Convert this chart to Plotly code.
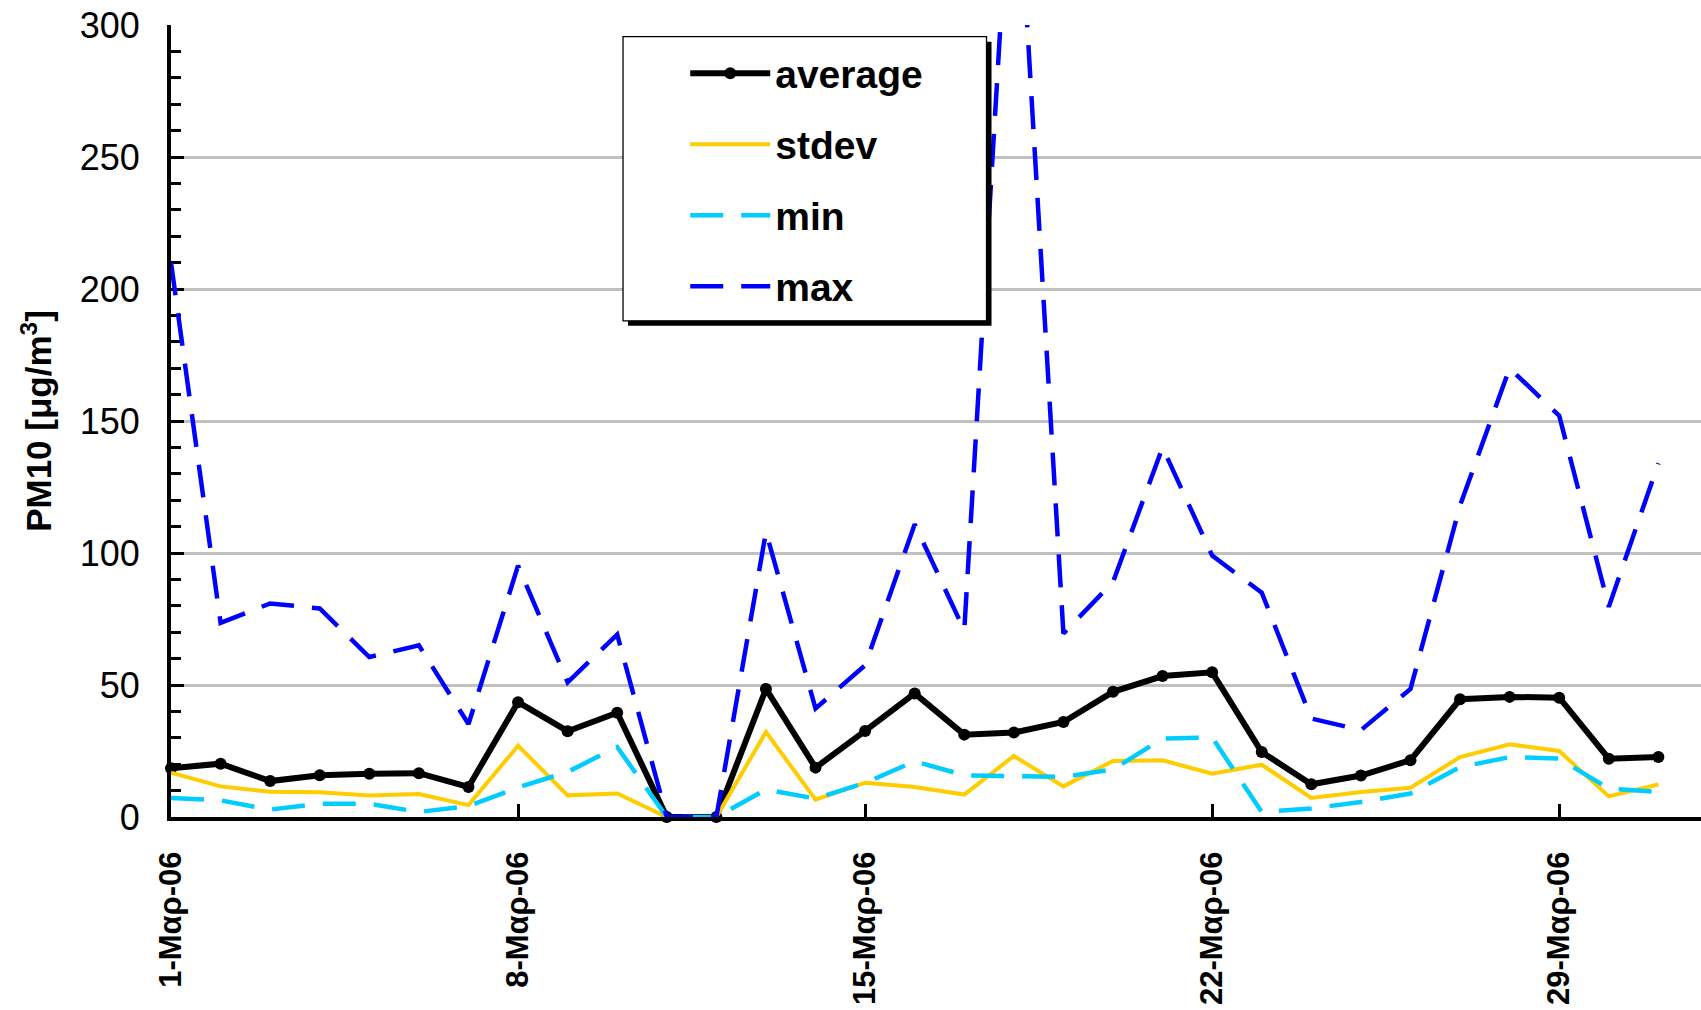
import plotly.graph_objects as go

dates = ["2006-03-01", "2006-03-02", "2006-03-03", "2006-03-04", "2006-03-05",
         "2006-03-06", "2006-03-07", "2006-03-08", "2006-03-09", "2006-03-10",
         "2006-03-11", "2006-03-12", "2006-03-13", "2006-03-14", "2006-03-15",
         "2006-03-16", "2006-03-17", "2006-03-18", "2006-03-19", "2006-03-20",
         "2006-03-21", "2006-03-22", "2006-03-23", "2006-03-24", "2006-03-25",
         "2006-03-26", "2006-03-27", "2006-03-28", "2006-03-29", "2006-03-30",
         "2006-03-31"]

average = [18.5, 20.2, 13.6, 15.8, 16.4, 16.6, 11.4, 43.5, 32.5, 39.5,
           0, 0, 48.5, 18.7, 32.6, 46.8, 31.2, 32.0, 36.0, 47.4,
           53.4, 54.8, 24.6, 12.4, 15.7, 21.5, 44.6, 45.5, 45.2, 22.1, 22.7]

stdev = [16.8, 11.6, 9.6, 9.4, 8.1, 8.7, 4.5, 27.0, 8.2, 8.9,
         0, 0, 32.2, 6.6, 13.0, 11.4, 8.5, 23.1, 11.6, 21.2,
         21.5, 16.4, 19.8, 7.2, 9.5, 11.1, 22.7, 27.5, 25.0, 7.8, 12.3]

minimum = [7.2, 6.3, 2.8, 5.0, 5.0, 1.9, 4.1, 11.2, 17.1, 26.5,
           0, 0, 10.4, 7.0, 12.9, 21.1, 15.8, 15.4, 15.2, 18.0,
           29.7, 30.1, 1.9, 3.2, 5.7, 8.9, 18.9, 22.7, 22.1, 10.8, 9.5]

maximum = [210, 73.5, 80.9, 79.0, 60.6, 65.0, 35.2, 95.2, 51.0, 69.1,
           0, 0, 108.0, 41.1, 57.5, 110.9, 70.7, 385, 69.5, 89.0,
           140, 99, 85, 37.3, 32.9, 48.5, 118, 170, 152, 79.6, 134]

tick_vals = ["2006-03-01", "2006-03-08", "2006-03-15", "2006-03-22", "2006-03-29"]
tick_text = ["1-Μαρ-06", "8-Μαρ-06", "15-Μαρ-06", "22-Μαρ-06", "29-Μαρ-06"]

W, H = 1701, 1010
L, R, T, B = 171.4, 0, 25, 193.3
pw = W - L - R
ph = H - T - B


def px(x):
    return (x - L) / pw


def py(y):
    return (H - B - y) / ph


FONT = "Liberation Sans, Arial, sans-serif"

fig = go.Figure()
fig.add_trace(go.Scatter(x=dates, y=average, name="average", mode="lines+markers",
                         line=dict(color="black", width=6),
                         marker=dict(color="black", size=12, symbol="circle"),
                         cliponaxis=False, legendgroup="a"))
fig.add_trace(go.Scatter(x=dates, y=stdev, name="stdev", mode="lines",
                         line=dict(color="#FFCC00", width=4), legendgroup="b"))
fig.add_trace(go.Scatter(x=dates, y=minimum, name="min", mode="lines",
                         line=dict(color="#00CCFF", width=4.5, dash="33px,18px"),
                         legendgroup="c"))
fig.add_trace(go.Scatter(x=dates, y=maximum, name="max", mode="lines",
                         line=dict(color="#0000FF", width=4.5, dash="33px,18px"),
                         legendgroup="d"))

# legend frame with shadow
fig.add_shape(type="rect", xref="paper", yref="paper",
              x0=px(628.3), x1=px(991.7), y0=py(325.7), y1=py(41.7),
              fillcolor="black", line=dict(width=0), layer="above")
fig.add_shape(type="rect", xref="paper", yref="paper",
              x0=px(623.3), x1=px(986.7), y0=py(320.7), y1=py(36.7),
              fillcolor="white", line=dict(color="black", width=1.3), layer="above")

fig.update_layout(
    width=W, height=H, autosize=False,
    margin=dict(l=L, r=R, t=T, b=B, pad=0),
    paper_bgcolor="white", plot_bgcolor="white",
    font=dict(family=FONT, color="black"),
    showlegend=True,
    legend=dict(x=px(685.5), y=py(41.3), xanchor="left", yanchor="top",
                bgcolor="rgba(0,0,0,0)", borderwidth=0,
                font=dict(family=FONT, size=39, color="black", weight="bold"),
                itemwidth=80, tracegroupgap=17.3, traceorder="grouped"),
    xaxis=dict(
        type="date",
        range=["2006-03-01", "2006-03-31 20:38"],
        tickmode="array", tickvals=tick_vals, ticktext=tick_text,
        tickangle=-90,
        tickfont=dict(family=FONT, size=31, color="black", weight="bold"),
        ticks="inside", ticklen=13, tickwidth=3, tickcolor="black",
        showline=True, linecolor="black", linewidth=4,
        showgrid=False, zeroline=False,
        ticklabelstandoff=18,
        layer="below traces",
    ),
    yaxis=dict(
        range=[0, 300], tickmode="linear", tick0=0, dtick=50,
        tickfont=dict(family=FONT, size=36, color="black"),
        ticks="inside", ticklen=13, tickwidth=3, tickcolor="black",
        minor=dict(dtick=10, ticks="inside", ticklen=10, tickwidth=3,
                   tickcolor="black", showgrid=False),
        showline=True, linecolor="black", linewidth=4,
        showgrid=True, gridcolor="#C0C0C0", gridwidth=3,
        zeroline=False,
        ticklabelstandoff=20,
        title=dict(text="PM10 [μg/m<sup>3</sup>]", standoff=18,
                   font=dict(family=FONT, size=35, color="black", weight="bold")),
        layer="below traces",
    ),
)

fig.write_html(
    "out.html",
    config={"displayModeBar": False},
    post_script="document.body.style.margin='0';document.body.style.padding='0';"
                "document.documentElement.style.overflow='hidden';",
)
